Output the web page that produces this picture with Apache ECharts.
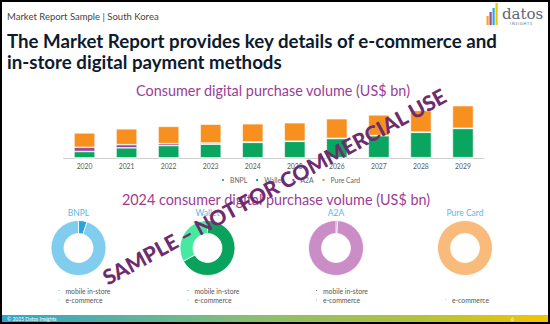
<!DOCTYPE html>
<html><head><meta charset="utf-8">
<script src="https://cdn.jsdelivr.net/npm/echarts@6/dist/echarts.min.js"></script>
<style>html,body{margin:0;padding:0;background:#fff}#c{width:550px;height:324px}</style>
</head><body><div id="c"></div>
<script>
// ---- data ----
const years = ['2020','2021','2022','2023','2024','2025','2026','2027','2028','2029'];
const bnpl   = [0.5,0.8,1,1,1.2,1.3,1.4,1.5,1.6,1.7];
const wallet = [32,50,61,68,77,82,96,110,127,146];
const a2a    = [21,16,10,6,2,1,1,1,1,1];
const pure   = [72,79,86,94,91,92,98,103,108,113];
const barSeriesNames = ['BNPL','Wallet','A2A','Pure Card'];

const donutTitles = ['BNPL','Wallet','A2A','Pure Card'];
const donutCats = ['mobile in-store','e-commerce'];
const donutBNPL   = [5, 95];
const donutWallet = [67, 33];
const donutA2A    = [1, 99];
const donutPure   = [null, 100];

// ---- styles ----
const barColors = ['#29abe2','#0aa55f','#a0449b','#f7901e'];
const donutColors = [['#29a3dd','#80cdee'],['#0aa35e','#45e9a0'],['#a0449b','#cb8dc6'],['#f7901e','#f9bb7c']];
const donutCenters = [78.5, 207.5, 336, 465];
const FONT = 'Lato, "Noto Sans", sans-serif';

const chart = echarts.init(document.getElementById('c'), null, {renderer:'svg'});

const series = [];
const legends = [];
const donutData = [donutBNPL, donutWallet, donutA2A, donutPure];

[bnpl, wallet, a2a, pure].forEach((arr, i) => {
  series.push({
    type:'bar', name: barSeriesNames[i], stack:'total', data: arr,
    xAxisIndex:0, yAxisIndex:0, barWidth:'50%',
    itemStyle:{color: barColors[i], borderColor:'#fff', borderWidth:0.6},
    silent:true
  });
});
legends.push({
  data: barSeriesNames, top: 176.5, left: 220, itemWidth:4, itemHeight:4, itemGap:7,
  icon:'rect', textStyle:{fontSize:6.8, color:'#666', fontFamily:FONT}, padding:0
});

donutData.forEach((vals, i) => {
  const data = [];
  const legendNames = [];
  vals.forEach((v, j) => {
    if (v === null) return;
    const nm = donutTitles[i] + '|' + donutCats[j];
    data.push({name:nm, value:v, itemStyle:{color: donutColors[i][j]}});
    legendNames.push(nm);
  });
  series.push({
    type:'pie', center:[donutCenters[i], 248], radius:[14.5, 27.5], startAngle:90,
    label:{show:false}, labelLine:{show:false}, silent:true, animation:false,
    itemStyle:{borderColor:'#fff', borderWidth:0.8},
    data
  });
  const isPure = (vals[0] === null);
  legends.push({
    data: legendNames, orient:'vertical', left: donutCenters[i] - 22, top: isPure ? 295.5 : 286.5,
    itemWidth:3, itemHeight:3, itemGap:1.5, icon:'circle', padding:0,
    formatter: n => n.split('|')[1],
    textStyle:{fontSize:6.8, color:'#555', fontFamily:FONT, lineHeight:8}
  });
});

const graphics = [
  // header
  {type:'text', left:7, top:11, style:{text:'Market Report Sample | South Korea', fontSize:9.5, fill:'#444', fontFamily:FONT}},
  {type:'text', left:7, top:31, style:{text:'The Market Report provides key details of e-commerce and', fontSize:18.7, fontWeight:'bold', fill:'#0d1b2e', fontFamily:FONT}},
  {type:'text', left:7, top:52, style:{text:'in-store digital payment methods', fontSize:18.7, fontWeight:'bold', fill:'#0d1b2e', fontFamily:FONT}},
  // logo
  {type:'rect', shape:{x:486.5, y:16, width:2.2, height:9}, style:{fill:'#f5a623'}},
  {type:'rect', shape:{x:489.5, y:12, width:2.2, height:13}, style:{fill:'#a0449b'}},
  {type:'rect', shape:{x:492.5, y:8, width:2.2, height:17}, style:{fill:'#29abe2'}},
  {type:'rect', shape:{x:495.5, y:3, width:2.2, height:22}, style:{fill:'#f2c500'}},
  {type:'text', left:502, top:6, style:{text:'datos', fontSize:15, fill:'#5a6878', fontFamily:'"DejaVu Serif", "Liberation Serif", serif'}},
  {type:'text', left:510, top:22, style:{text:'I N S I G H T S', fontSize:3.5, fill:'#5a6878', fontFamily:FONT}},
  // chart titles
  {type:'text', x:273, y:83.5, style:{text:'Consumer digital purchase volume (US$ bn)', fontSize:14.4, fill:'#9b3d96', fontFamily:FONT, align:'center'}},
  {type:'text', x:276, y:192.5, style:{text:'2024 consumer digital purchase volume (US$ bn)', fontSize:14.4, fill:'#9b3d96', fontFamily:FONT, align:'center'}},
  // footer
  {type:'rect', shape:{x:1, y:315, width:548, height:8}, style:{fill:new echarts.graphic.LinearGradient(0,0,1,0,[{offset:0,color:'#2fa6cc'},{offset:0.45,color:'#86bf74'},{offset:0.75,color:'#b2c23e'},{offset:1,color:'#f2c500'}])}},
  {type:'text', left:7, top:316.5, style:{text:'© 2025 Datos Insights', fontSize:5, fill:'#fff', fontFamily:FONT}},
  {type:'text', left:511, top:316.5, style:{text:'6', fontSize:5, fill:'#fff', fontFamily:FONT}},
  // frame
  {type:'rect', shape:{x:1, y:1, width:548, height:322}, style:{fill:null, stroke:'#000', lineWidth:2}},
  // watermark
  {type:'text', x:274, y:186, rotation:0.497, z:100, style:{text:'SAMPLE – NOT FOR COMMERCIAL USE', fontSize:21, fontWeight:900, fill:'#6e2c6e', fontFamily:FONT, align:'center', verticalAlign:'middle'}}
];
donutTitles.forEach((t, i) => {
  graphics.push({type:'text', x:donutCenters[i], y:208.5, style:{text:t, fontSize:8.5, fill:'#5ab8e6', fontFamily:FONT, align:'center'}});
});

chart.setOption({
  animation:false,
  textStyle:{fontFamily:FONT},
  grid:{left:63.5, right:66, top:98, bottom:166},
  xAxis:{type:'category', data:years, axisTick:{show:false},
    axisLine:{lineStyle:{color:'#d0d0d0', width:1}},
    axisLabel:{fontSize:6.8, color:'#595959', margin:4}},
  yAxis:{type:'value', min:0, max:300, show:false},
  legend: legends,
  series,
  graphic: graphics
});
</script></body></html>
